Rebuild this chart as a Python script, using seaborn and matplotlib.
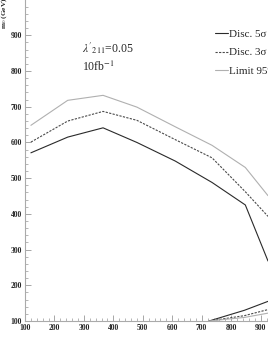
import numpy as np
import pandas as pd
import seaborn as sns
import matplotlib
matplotlib.use("Agg")
import matplotlib.pyplot as plt
from matplotlib.ticker import MultipleLocator

sns.set_style("white")
plt.rcParams['font.family'] = ['Liberation Serif', 'DejaVu Serif']
plt.rcParams['mathtext.fontset'] = 'stix'

# upper branch
m12_upper = [120, 245, 365, 480, 610, 735, 848, 925]
disc5_upper = [571, 615, 641, 600, 548, 488, 425, 268]
disc3_upper = [601, 660, 687, 662, 608, 557, 462, 393]
limit_upper = [648, 718, 732, 699, 644, 592, 530, 451]
# lower branch
m12_lower = [725, 845, 925]
disc5_lower = [100, 130, 155]
disc3_lower = [100, 115, 132]
limit_lower = [100, 110, 122]

series_names = ["Disc. 5\u03c3", "Disc. 3\u03c3", "Limit 95%"]
colors = ["#2a2a2a", "#4a4a4a", "#b0b0b0"]
dashes = [(None, None), (2, 1.2), (None, None)]

rows = []
for name, up, lo in zip(series_names,
                        [disc5_upper, disc3_upper, limit_upper],
                        [disc5_lower, disc3_lower, limit_lower]):
    for x, y in zip(m12_upper, up):
        rows.append(dict(m12=x, m0=y, series=name, branch="upper"))
    for x, y in zip(m12_lower, lo):
        rows.append(dict(m12=x, m0=y, series=name, branch="lower"))
df = pd.DataFrame(rows)

fig = plt.figure(figsize=(2.68, 3.46), dpi=100)
ax = fig.add_axes([25/268, 25/346, 243/268, 321/346])

for name, c, d in zip(series_names, colors, dashes):
    for br in ["upper", "lower"]:
        sub = df[(df.series == name) & (df.branch == br)]
        sns.lineplot(data=sub, x="m12", y="m0", ax=ax, color=c, lw=0.8,
                     sort=False, estimator=None,
                     label=name if br == "upper" else None)
        if d[0] is not None:
            ax.lines[-1].set_dashes(d)

ax.set_xlim(100, 925)
ax.set_ylim(100, 999)
ax.xaxis.set_major_locator(MultipleLocator(100))
ax.xaxis.set_minor_locator(MultipleLocator(20))
ax.yaxis.set_major_locator(MultipleLocator(100))
ax.yaxis.set_minor_locator(MultipleLocator(20))
ax.tick_params(which='both', direction='in', color='#999999', labelsize=5.5,
               bottom=True, left=True, top=False, right=False)
ax.tick_params(which='major', length=4, width=0.6, pad=2)
ax.tick_params(which='minor', length=2, width=0.5)
for lab in ax.get_xticklabels() + ax.get_yticklabels():
    lab.set_fontweight('bold')
for s in ['top', 'right']:
    ax.spines[s].set_visible(False)
for s in ['left', 'bottom']:
    ax.spines[s].set_color('#aaaaaa')
    ax.spines[s].set_linewidth(0.8)

ax.set_xlabel("")
ax.set_ylabel(r"m$_0$ (GeV)", fontsize=5.2, fontweight='bold')
ax.yaxis.set_label_coords(-0.064, 0.91)
ax.yaxis.label.set_va('bottom')
ax.yaxis.label.set_ha('left')
ax.yaxis.label.set_rotation_mode('anchor')

ax.text(82/268, 1 - 48/346, r"$\lambda'_{211}$=0.05", transform=fig.transFigure,
        fontsize=8.5, va='center', ha='left')
ax.text(82/268, 1 - 67/346, r"10fb$^{-1}$", transform=fig.transFigure,
        fontsize=8.5, va='center', ha='left')

leg = ax.legend(loc='upper left', bbox_to_anchor=(215/268, 1 - 29/346),
                bbox_transform=fig.transFigure, frameon=False, fontsize=8,
                handlelength=1.2, handletextpad=0.1, borderpad=0,
                borderaxespad=0, labelspacing=0.8)

fig.savefig("out.png", dpi=100)
